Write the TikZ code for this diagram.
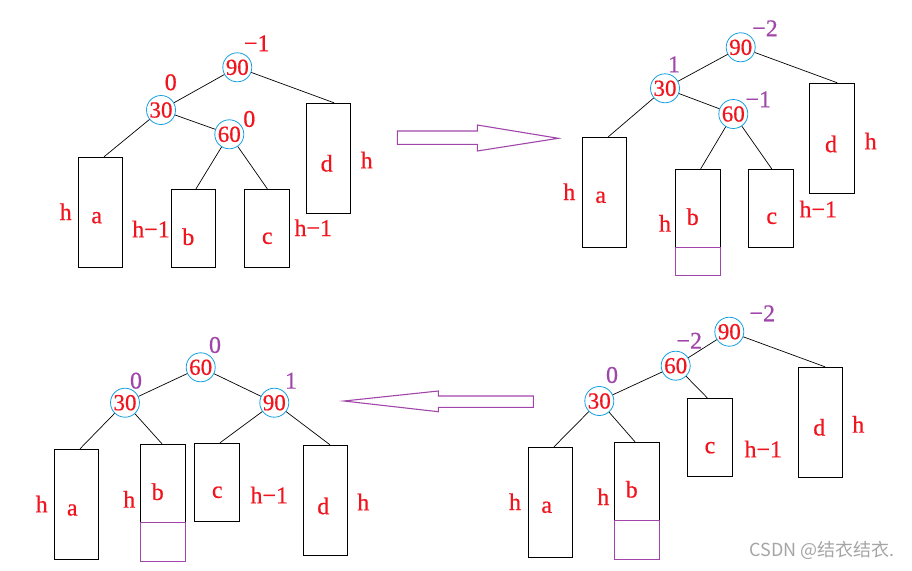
\documentclass[tikz,border=0pt]{standalone}
\usepackage{fontspec}
\setmainfont{Liberation Serif}
\newfontfamily\heavyserif[FakeBold=0.6]{Liberation Serif}
\newfontfamily\cjkwm{Noto Sans CJK SC}
\definecolor{tred}{RGB}{240,20,30}
\definecolor{tpur}{RGB}{160,70,170}
\definecolor{tblue}{RGB}{20,160,225}
\definecolor{wmgray}{RGB}{165,165,165}
\tikzset{
  circ/.style={circle,draw=tblue,line width=0.8pt,minimum size=29pt,inner sep=-4pt,text=tred,font=\heavyserif\fontsize{23}{23}\selectfont},
  balred/.style={text=tred,inner sep=0pt,font=\heavyserif\fontsize{24}{24}\selectfont},
  balpur/.style={text=tpur,inner sep=0pt,font=\heavyserif\fontsize{24}{24}\selectfont},
  lbl/.style={text=tred,inner sep=0pt,font=\heavyserif\fontsize{24}{24}\selectfont},
  tbox/.style={draw=black,line width=1pt,rectangle,inner sep=0pt,minimum width=44.5pt},
  pbox/.style={draw=tpur,line width=0.9pt,rectangle,inner sep=0pt,minimum width=44.5pt},
  edge/.style={draw=black,line width=0.7pt},
  bigarrow/.style={draw=tpur,line width=1.1pt}
}
\begin{document}
\begin{tikzpicture}[x=1pt,y=-1pt]
\useasboundingbox (0,0) rectangle (912,570);
% ===== Q1 (top-left) =====
\node[circ] (q1n90) at (237.3,67.3) {90};
\node[circ] (q1n30) at (161,110) {30};
\node[circ] (q1n60) at (229.3,134.3) {60};
\node[balred] (q1b90) at (256.7,43.3) {−1};
\node[balred] (q1b30) at (170.7,82.3) {0};
\node[balred] (q1b60) at (249.3,119) {0};
\node[tbox,minimum height=110pt] (q1a) at (100.3,212.3) {};
\node[tbox,minimum height=78pt] (q1b) at (193.5,228.3) {};
\node[tbox,minimum height=78pt] (q1c) at (266.8,228.3) {};
\node[tbox,minimum height=110pt] (q1d) at (328.3,158.3) {};
\node[lbl] (q1ha) at (65.7,211.7) {h};
\node[lbl] (q1la) at (96.7,217.7) {a};
\node[lbl] (q1hb) at (151,229) {h−1};
\node[lbl] (q1lb) at (188.3,236.7) {b};
\node[lbl] (q1lc) at (267.3,238.3) {c};
\node[lbl] (q1hc) at (313.3,227.7) {h−1};
\node[lbl] (q1ld) at (326.7,163.3) {d};
\node[lbl] (q1hd) at (366.7,160) {h};
\draw[edge] (q1n90) -- ([xshift=5.7pt]q1d.north);
\draw[edge] (q1n90) -- (q1n30);
\draw[edge] (q1n30) -- (q1n60);
\draw[edge] (q1n30) -- ([xshift=3.7pt]q1a.north);
\draw[edge] (q1n60) -- ([xshift=2.5pt]q1b.north);
\draw[edge] (q1n60) -- ([xshift=0.5pt]q1c.north);
% ===== Q2 (top-right) =====
\node[circ] (q2n90) at (740.7,47.3) {90};
\node[circ] (q2n30) at (665,88.3) {30};
\node[circ] (q2n60) at (733.3,114) {60};
\node[balpur] (q2b90) at (765,28.3) {−2};
\node[balpur] (q2b30) at (674,64.3) {1};
\node[balpur] (q2b60) at (758.3,99.3) {−1};
\node[tbox,minimum height=110pt] (q2a) at (604.5,192.3) {};
\node[tbox,minimum height=78pt] (q2b) at (697.8,208.3) {};
\node[pbox,minimum height=28.4pt] (q2bx) at (697.8,261.5) {};
\node[tbox,minimum height=78pt] (q2c) at (770.8,208.3) {};
\node[tbox,minimum height=110pt] (q2d) at (832.2,138.3) {};
\node[lbl] (q2ha) at (569.3,191.7) {h};
\node[lbl] (q2la) at (600.7,197.3) {a};
\node[lbl] (q2hb) at (665,223.3) {h};
\node[lbl] (q2lb) at (692.7,216.7) {b};
\node[lbl] (q2lc) at (771.7,218.3) {c};
\node[lbl] (q2hc) at (818.3,209) {h−1};
\node[lbl] (q2ld) at (831,144) {d};
\node[lbl] (q2hd) at (870.7,141) {h};
\draw[edge] (q2n90) -- ([xshift=5.1pt]q2d.north);
\draw[edge] (q2n90) -- (q2n30);
\draw[edge] (q2n30) -- (q2n60);
\draw[edge] (q2n30) -- ([xshift=3.8pt]q2a.north);
\draw[edge] (q2n60) -- ([xshift=2.9pt]q2b.north);
\draw[edge] (q2n60) -- ([xshift=0.9pt]q2c.north);
% ===== Q3 (bottom-left) =====
\node[circ] (q3n60) at (200.7,367.3) {60};
\node[circ] (q3n30) at (125,402.7) {30};
\node[circ] (q3n90) at (274.3,402.7) {90};
\node[balpur] (q3b60) at (215,345) {0};
\node[balpur] (q3b30) at (136,380.7) {0};
\node[balpur] (q3b90) at (291,380.7) {1};
\node[tbox,minimum height=110pt] (q3a) at (76.3,504.3) {};
\node[tbox,minimum height=78.4pt] (q3b) at (162.8,483.5) {};
\node[pbox,minimum height=38.3pt] (q3bx) at (162.8,541.9) {};
\node[tbox,minimum height=78pt] (q3c) at (217,482.3) {};
\node[tbox,minimum height=110pt] (q3d) at (325.3,500.3) {};
\node[lbl] (q3ha) at (41.7,504) {h};
\node[lbl] (q3la) at (72.3,510) {a};
\node[lbl] (q3hb) at (129.3,499.3) {h};
\node[lbl] (q3lb) at (157.7,491.7) {b};
\node[lbl] (q3lc) at (217.3,492.3) {c};
\node[lbl] (q3hc) at (269.3,495) {h−1};
\node[lbl] (q3ld) at (323.3,506) {d};
\node[lbl] (q3hd) at (363.3,502) {h};
\draw[edge] (q3n60) -- (q3n30);
\draw[edge] (q3n60) -- (q3n90);
\draw[edge] (q3n30) -- ([xshift=3.7pt]q3a.north);
\draw[edge] (q3n30) -- ([xshift=-0.8pt]q3b.north);
\draw[edge] (q3n90) -- ([xshift=3pt]q3c.north);
\draw[edge] (q3n90) -- ([xshift=4.7pt]q3d.north);
% ===== Q4 (bottom-right) =====
\node[circ] (q4n90) at (729.3,331.7) {90};
\node[circ] (q4n60) at (675.7,365.7) {60};
\node[circ] (q4n30) at (599.3,401) {30};
\node[balpur] (q4b90) at (762.3,313.3) {−2};
\node[balpur] (q4b60) at (689.3,340.7) {−2};
\node[balpur] (q4b30) at (612,375) {0};
\node[tbox,minimum height=110pt] (q4a) at (550.3,502.3) {};
\node[tbox,minimum height=78.4pt] (q4b) at (636.8,481.5) {};
\node[pbox,minimum height=38.3pt] (q4bx) at (636.8,539.9) {};
\node[tbox,minimum height=77.7pt] (q4c) at (709.8,437.2) {};
\node[tbox,minimum height=110pt] (q4d) at (820.3,422.3) {};
\node[lbl] (q4ha) at (515,501.7) {h};
\node[lbl] (q4la) at (546.7,507.3) {a};
\node[lbl] (q4hb) at (603.3,496.7) {h};
\node[lbl] (q4lb) at (631.7,489.3) {b};
\node[lbl] (q4lc) at (710,447.7) {c};
\node[lbl] (q4hc) at (763.3,449) {h−1};
\node[lbl] (q4ld) at (819.3,427.3) {d};
\node[lbl] (q4hd) at (858.3,424.3) {h};
\draw[edge] (q4n90) -- (q4n60);
\draw[edge] (q4n60) -- (q4n30);
\draw[edge] (q4n90) -- ([xshift=4.7pt]q4d.north);
\draw[edge] (q4n60) -- ([xshift=-2.5pt]q4c.north);
\draw[edge] (q4n30) -- ([xshift=3.7pt]q4a.north);
\draw[edge] (q4n30) -- ([xshift=-1.8pt]q4b.north);
% ===== big hollow arrows =====
\draw[bigarrow] (397.3,131) -- (477.3,131) -- (477.3,125) -- (558.3,138.3) -- (477.3,151) -- (477.3,144.3) -- (397.3,144.3) -- cycle;
\draw[bigarrow] (533.3,396) -- (438.3,396) -- (438.3,391) -- (344,401) -- (438.3,411.7) -- (438.3,407.3) -- (533.3,407.3) -- cycle;
% ===== watermark =====
\node[text=wmgray,inner sep=0pt,font=\cjkwm\fontsize{18}{18}\selectfont] (wm) at (822,550) {CSDN @结衣结衣.};
\end{tikzpicture}
\end{document}
